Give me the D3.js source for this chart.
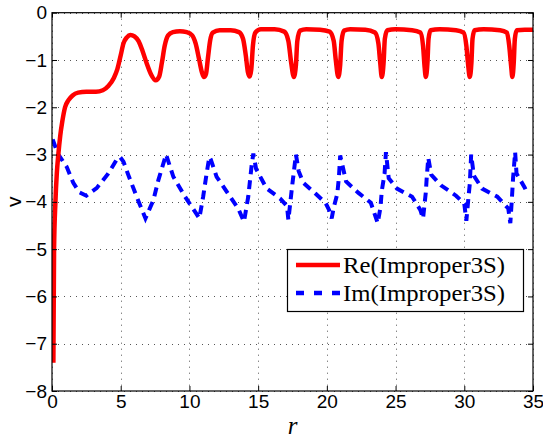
<!DOCTYPE html>
<html>
<head>
<meta charset="utf-8">
<script src="https://cdn.jsdelivr.net/npm/d3@7"></script>
<style>
  html, body { margin: 0; padding: 0; background: #fff; }
  svg { display: block; }
</style>
</head>
<body>
<script>
// ---- data ----
const xTicks = [0, 5, 10, 15, 20, 25, 30, 35];
const yTicks = [0, -1, -2, -3, -4, -5, -6, -7, -8];
const seriesNames = ["Re(Improper3S)", "Im(Improper3S)"];

const reR = [0.1,0.15,0.25,0.35,0.46,0.6,0.75,0.95,1.2,1.5,1.9,2.5,3.2,3.7,4.1,4.5,4.75,5.0,5.2,5.45,5.7,6.0,6.3,6.6,6.9,7.2,7.55,7.8,8.0,8.2,8.45,8.8,9.3,9.8,10.2,10.45,10.7,10.9,11.05,11.2,11.35,11.5,11.7,12.2,13.0,13.6,13.9,14.1,14.25,14.38,14.5,14.62,14.8,15.2,16.2,16.9,17.2,17.4,17.6,17.75,17.85,18.05,18.5,19.5,20.2,20.5,20.65,20.83,20.97,21.07,21.25,21.7,22.8,23.5,23.75,23.88,24.0,24.13,24.22,24.4,25.0,26.2,26.8,27.0,27.1,27.2,27.32,27.4,27.55,28.2,29.4,29.95,30.15,30.28,30.4,30.52,30.6,30.75,31.4,32.6,33.1,33.27,33.4,33.5,33.6,33.68,33.82,34.4,35.0];
const reV = [-7.4,-5.0,-4.0,-3.4,-3.0,-2.6,-2.3,-2.0,-1.85,-1.75,-1.69,-1.67,-1.67,-1.64,-1.55,-1.38,-1.2,-0.9,-0.65,-0.52,-0.47,-0.5,-0.6,-0.82,-1.08,-1.3,-1.43,-1.35,-1.05,-0.7,-0.48,-0.41,-0.39,-0.41,-0.48,-0.65,-0.98,-1.25,-1.36,-1.3,-0.95,-0.6,-0.42,-0.37,-0.37,-0.41,-0.55,-0.9,-1.25,-1.35,-1.2,-0.7,-0.42,-0.35,-0.35,-0.4,-0.6,-1.05,-1.36,-1.1,-0.6,-0.38,-0.35,-0.36,-0.4,-0.6,-1.0,-1.36,-1.1,-0.6,-0.38,-0.35,-0.36,-0.42,-0.65,-1.05,-1.36,-1.05,-0.55,-0.37,-0.35,-0.37,-0.42,-0.7,-1.1,-1.36,-1.05,-0.55,-0.37,-0.35,-0.37,-0.42,-0.7,-1.1,-1.36,-1.05,-0.55,-0.37,-0.35,-0.37,-0.42,-0.7,-1.1,-1.36,-1.05,-0.55,-0.37,-0.36,-0.36];

const imR = [0.05,0.2,0.4,0.7,1.07,1.55,2.0,2.5,3.25,4.1,4.7,4.95,5.2,5.55,6.16,6.8,7.38,7.74,8.3,8.83,9.68,10.5,10.72,11.0,11.25,11.45,11.55,11.98,12.7,13.55,13.97,14.28,14.53,14.65,14.85,15.6,16.6,17.1,17.2,17.5,17.75,17.95,18.27,19.19,19.92,20.16,20.35,20.5,20.76,20.88,20.97,21.4,22.3,23.2,23.7,23.9,24.0,24.2,24.3,24.5,25.1,26.2,26.8,27.0,27.2,27.26,27.38,27.6,28.3,29.4,30.0,30.15,30.3,30.4,30.5,30.7,31.3,32.4,33.2,33.35,33.46,33.55,33.7,33.8,34.4,34.55];
const imV = [-2.68,-2.8,-2.97,-3.1,-3.26,-3.6,-3.8,-3.87,-3.71,-3.4,-3.11,-3.05,-3.15,-3.43,-3.89,-4.35,-3.96,-3.54,-3.0,-3.47,-3.89,-4.25,-4.35,-3.89,-3.4,-3.05,-3.1,-3.47,-3.78,-4.14,-4.42,-3.89,-3.22,-2.98,-3.3,-3.71,-3.93,-4.09,-4.38,-3.6,-3.0,-3.35,-3.59,-3.83,-4.03,-4.17,-4.35,-4.12,-3.83,-3.47,-3.02,-3.57,-3.81,-4.02,-4.45,-4.12,-3.76,-3.4,-2.95,-3.5,-3.72,-3.89,-4.17,-4.35,-3.8,-3.52,-3.07,-3.43,-3.65,-3.87,-4.04,-4.4,-3.92,-3.62,-3.0,-3.45,-3.72,-3.89,-4.14,-4.45,-3.95,-3.5,-2.95,-3.4,-3.7,-3.8];

// ---- layout ----
const W = 543, H = 438;
const L = 52, R = 533, T = 12.7, B = 391;
const svg = d3.select("body").append("svg").attr("width", W).attr("height", H);

const x = d3.scaleLinear().domain([0, 35]).range([L, R]);
const y = d3.scaleLinear().domain([-8, 0]).range([B, T]);

// grid
const grid = svg.append("g").attr("stroke", "#555").attr("stroke-width", 1).attr("stroke-dasharray", "1,5");
grid.selectAll(".gx").data(xTicks).join("line")
  .attr("x1", d => Math.round(x(d)) + 0.5).attr("x2", d => Math.round(x(d)) + 0.5)
  .attr("y1", T).attr("y2", B);
grid.selectAll(".gy").data(yTicks).join("line")
  .attr("y1", d => Math.round(y(d)) + 0.5).attr("y2", d => Math.round(y(d)) + 0.5)
  .attr("x1", L).attr("x2", R);

// lines
const reData = reR.map((r, i) => [r, reV[i]]);
const imData = imR.map((r, i) => [r, imV[i]]);
svg.append("clipPath").attr("id", "clip").append("rect")
  .attr("x", L).attr("y", T).attr("width", R - L).attr("height", B - T);

svg.append("path").datum(imData)
  .attr("clip-path", "url(#clip)")
  .attr("fill", "none").attr("stroke", "#0000ff").attr("stroke-width", 4)
  .attr("stroke-dasharray", "9,6")
  .attr("d", d3.line().x(d => x(d[0])).y(d => y(d[1])));

svg.append("path").datum(reData)
  .attr("clip-path", "url(#clip)")
  .attr("fill", "none").attr("stroke", "#ff0000").attr("stroke-width", 4.5)
  .attr("stroke-linejoin", "round")
  .attr("d", d3.line().curve(d3.curveMonotoneX).x(d => x(d[0])).y(d => y(d[1])));

// axes (ticks inward)
const fmt = d => d3.format("d")(d);
const ax = svg.append("g").attr("transform", `translate(0,${B})`)
  .call(d3.axisBottom(x).tickValues(xTicks).tickSize(-5).tickPadding(3).tickFormat(fmt));
const axT = svg.append("g").attr("transform", `translate(0,${T})`)
  .call(d3.axisTop(x).tickValues(xTicks).tickSize(-5).tickFormat(""));
const ay = svg.append("g").attr("transform", `translate(${L},0)`)
  .call(d3.axisLeft(y).tickValues(yTicks).tickSize(-5).tickPadding(5).tickFormat(fmt));
const ayR = svg.append("g").attr("transform", `translate(${R},0)`)
  .call(d3.axisRight(y).tickValues(yTicks).tickSize(-5).tickFormat(""));
[ax, axT, ay, ayR].forEach(g => {
  g.selectAll(".domain").remove();
  g.selectAll("line").attr("stroke", "#000");
  g.selectAll("text").attr("fill", "#000")
    .attr("font-family", "'Liberation Sans', Arial, Helvetica, sans-serif")
    .attr("font-size", 19);
});

// box
svg.append("rect").attr("x", L).attr("y", T).attr("width", R - L).attr("height", B - T)
  .attr("fill", "none").attr("stroke", "#000").attr("stroke-width", 1.2);

// axis labels
svg.append("text").attr("x", (L + R) / 2).attr("y", 434)
  .attr("text-anchor", "middle")
  .attr("font-family", "'Liberation Serif', 'Times New Roman', serif")
  .attr("font-style", "italic").attr("font-size", 25).text("r");
svg.append("text").attr("transform", `translate(21,${(T + B) / 2}) rotate(-90)`)
  .attr("text-anchor", "middle")
  .attr("font-family", "'Liberation Sans', Arial, sans-serif")
  .attr("font-size", 21).text("v");

// legend
const lg = svg.append("g");
lg.append("rect").attr("x", 287.5).attr("y", 249.5).attr("width", 236).attr("height", 62)
  .attr("fill", "#fff").attr("stroke", "#000").attr("stroke-width", 1.2);
const legY = [265, 293];
const colors = ["#ff0000", "#0000ff"];
const dashes = [null, "8,10"];
seriesNames.forEach((name, i) => {
  lg.append("line").attr("x1", 296).attr("x2", 340).attr("y1", legY[i]).attr("y2", legY[i])
    .attr("stroke", colors[i]).attr("stroke-width", 4.3).attr("stroke-dasharray", dashes[i]);
  lg.append("text").attr("x", 343).attr("y", legY[i] + 8)
    .attr("font-family", "'Liberation Serif', 'Times New Roman', serif")
    .attr("font-size", 24).attr("textLength", 162).attr("lengthAdjust", "spacingAndGlyphs")
    .text(name);
});
</script>
</body>
</html>
